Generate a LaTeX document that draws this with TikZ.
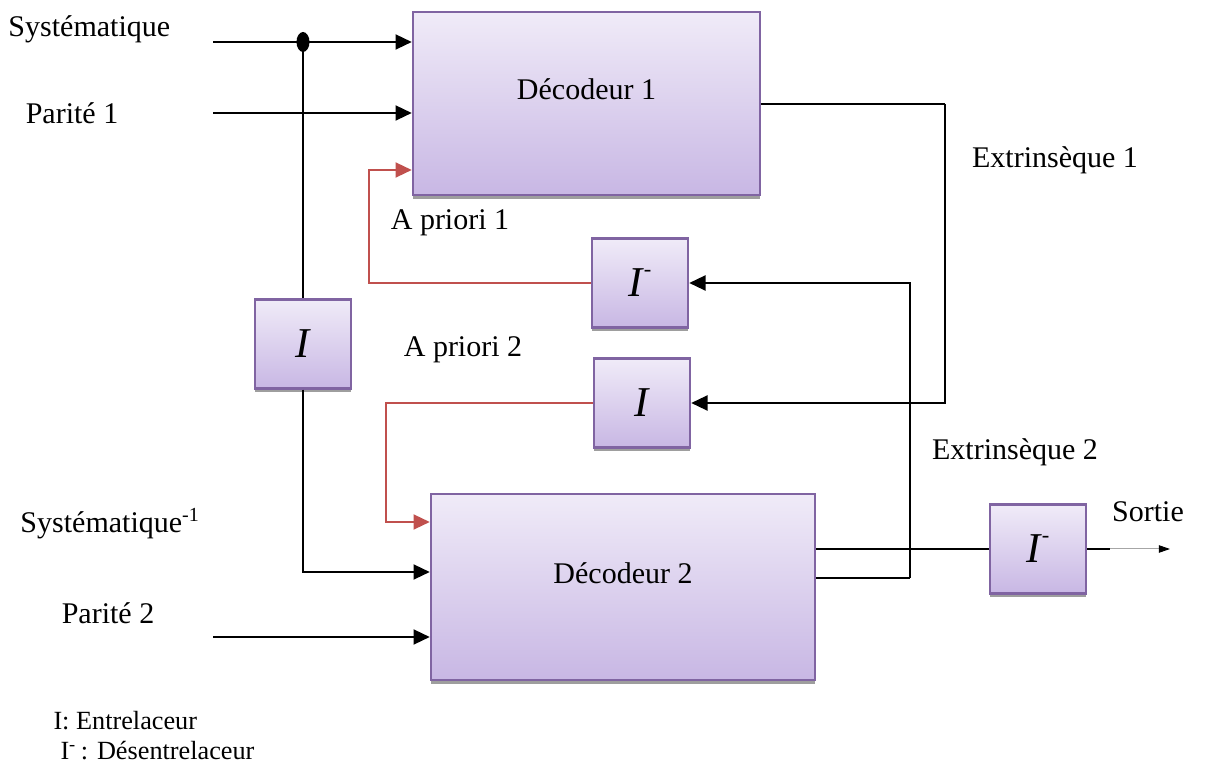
\documentclass[tikz,border=0pt]{standalone}
\usepackage{fontspec}
\setmainfont{Liberation Serif}
\usetikzlibrary{arrows.meta,shapes.geometric,shadows}
\definecolor{blkborder}{RGB}{128,100,162}
\definecolor{blktop}{RGB}{240,235,248}
\definecolor{blkbot}{RGB}{200,183,228}
\definecolor{redline}{RGB}{192,80,77}
\newcommand{\Iinv}{I\kern0.02em\raisebox{0.48em}{\upshape\fontsize{9}{9}\selectfont -}}
\tikzset{
  blk/.style={draw=blkborder, line width=1pt, rectangle, top color=blktop, bottom color=blkbot,
    drop shadow={shadow xshift=0pt, shadow yshift=-1.5pt, fill=black!38, opacity=1}},
  small/.style={blk, minimum width=38.4pt, minimum height=35.6pt, inner sep=0pt,
    font=\fontsize{17}{19}\selectfont\itshape},
  wire/.style={line width=0.8pt, black},
  thinwire/.style={line width=0.6pt, black},
  redwire/.style={line width=0.8pt, redline},
  tip/.style={-{Triangle[length=6.5pt,width=6pt]}},
  lbl/.style={font=\fontsize{12}{14}\selectfont, inner sep=0pt},
  legend/.style={font=\fontsize{10.5}{12}\selectfont, inner sep=0pt},
  dot/.style={ellipse, fill=black, minimum width=5.2pt, minimum height=8pt, inner sep=0pt}
}
\begin{document}
\begin{tikzpicture}[x=0.4pt,y=-0.4pt]
\useasboundingbox (0,0) rectangle (1206,764);

% blocks
\node[blk, minimum width=138.8pt, minimum height=73.2pt] (d1) at (586.5,103.5) {};
\node[lbl] at ([yshift=5.6pt]d1.center) {Décodeur 1};
\node[blk, minimum width=153.6pt, minimum height=74.4pt] (d2) at (623,587) {};
\node[lbl] at ([yshift=5.6pt]d2.center) {Décodeur 2};
\node[small] (iL) at (303,344) {I};
\node[small] (dI) at (640,283) {\Iinv};
\node[small] (iM) at (642,403) {I};
\node[small] (dO) at (1038,549) {\Iinv};

% labels
\node[lbl, anchor=west] at (8,29) {Systématique};
\node[lbl] at (72,113) {Parité 1};
\node[lbl, anchor=west] at (20,524) {Systématique\textsuperscript{-1}};
\node[lbl] at (108,613) {Parité 2};
\node[lbl] at (450,223) {A priori 1};
\node[lbl] at (463,350) {A priori 2};
\node[lbl] at (1055,160) {Extrinsèque 1};
\node[lbl] at (1015,452) {Extrinsèque 2};
\node[lbl] at (1148,512) {Sortie};
\node[legend, anchor=west] at (53,721) {I: Entrelaceur};
\node[legend, anchor=west] at (60,751) {I\textsuperscript{-}\,: Désentrelaceur};

% input wires to decoder 1
\coordinate (s1) at (213,42);
\coordinate (p1) at (213,113);
\node[dot] (j) at (303,42) {};
\draw[wire, tip] (s1) -- (d1.west |- s1);
\draw[wire, tip] (p1) -- (d1.west |- p1);
\draw[wire] (j) -- (iL.north);

% interleaved systematic and parity 2 into decoder 2
\coordinate (s2) at (303,572);
\coordinate (p2) at (213,637);
\draw[wire, tip] (iL.south) -- (s2) -- (d2.west |- s2);
\draw[wire, tip] (p2) -- (d2.west |- p2);

% a priori feedback paths
\coordinate (a1) at (369,170);
\draw[redwire, tip] (dI.west) -| (a1) -- (d1.west |- a1);
\coordinate (a2) at (386,522);
\draw[redwire, tip] (iM.west) -| (a2) -- (d2.west |- a2);

% extrinsic paths
\coordinate (e1) at (945,104);
\draw[thinwire] (d1.east |- e1) -- (e1);
\draw[wire, tip] (e1) |- (iM.east);
\coordinate (e2) at (910,578);
\draw[thinwire] (d2.east |- e2) -- (e2);
\draw[wire, tip] (e2) |- (dI.east);
\draw[wire] (d2.east |- dO.west) -- (dO.west);

% output
\coordinate (o1) at (1110,549);
\coordinate (o2) at (1170,549);
\draw[wire] (dO.east) -- (o1);
\draw[line width=0.4pt, black!35, -{Triangle[length=4.5pt,width=3pt,black]}] (o1) -- (o2);
\end{tikzpicture}
\end{document}
